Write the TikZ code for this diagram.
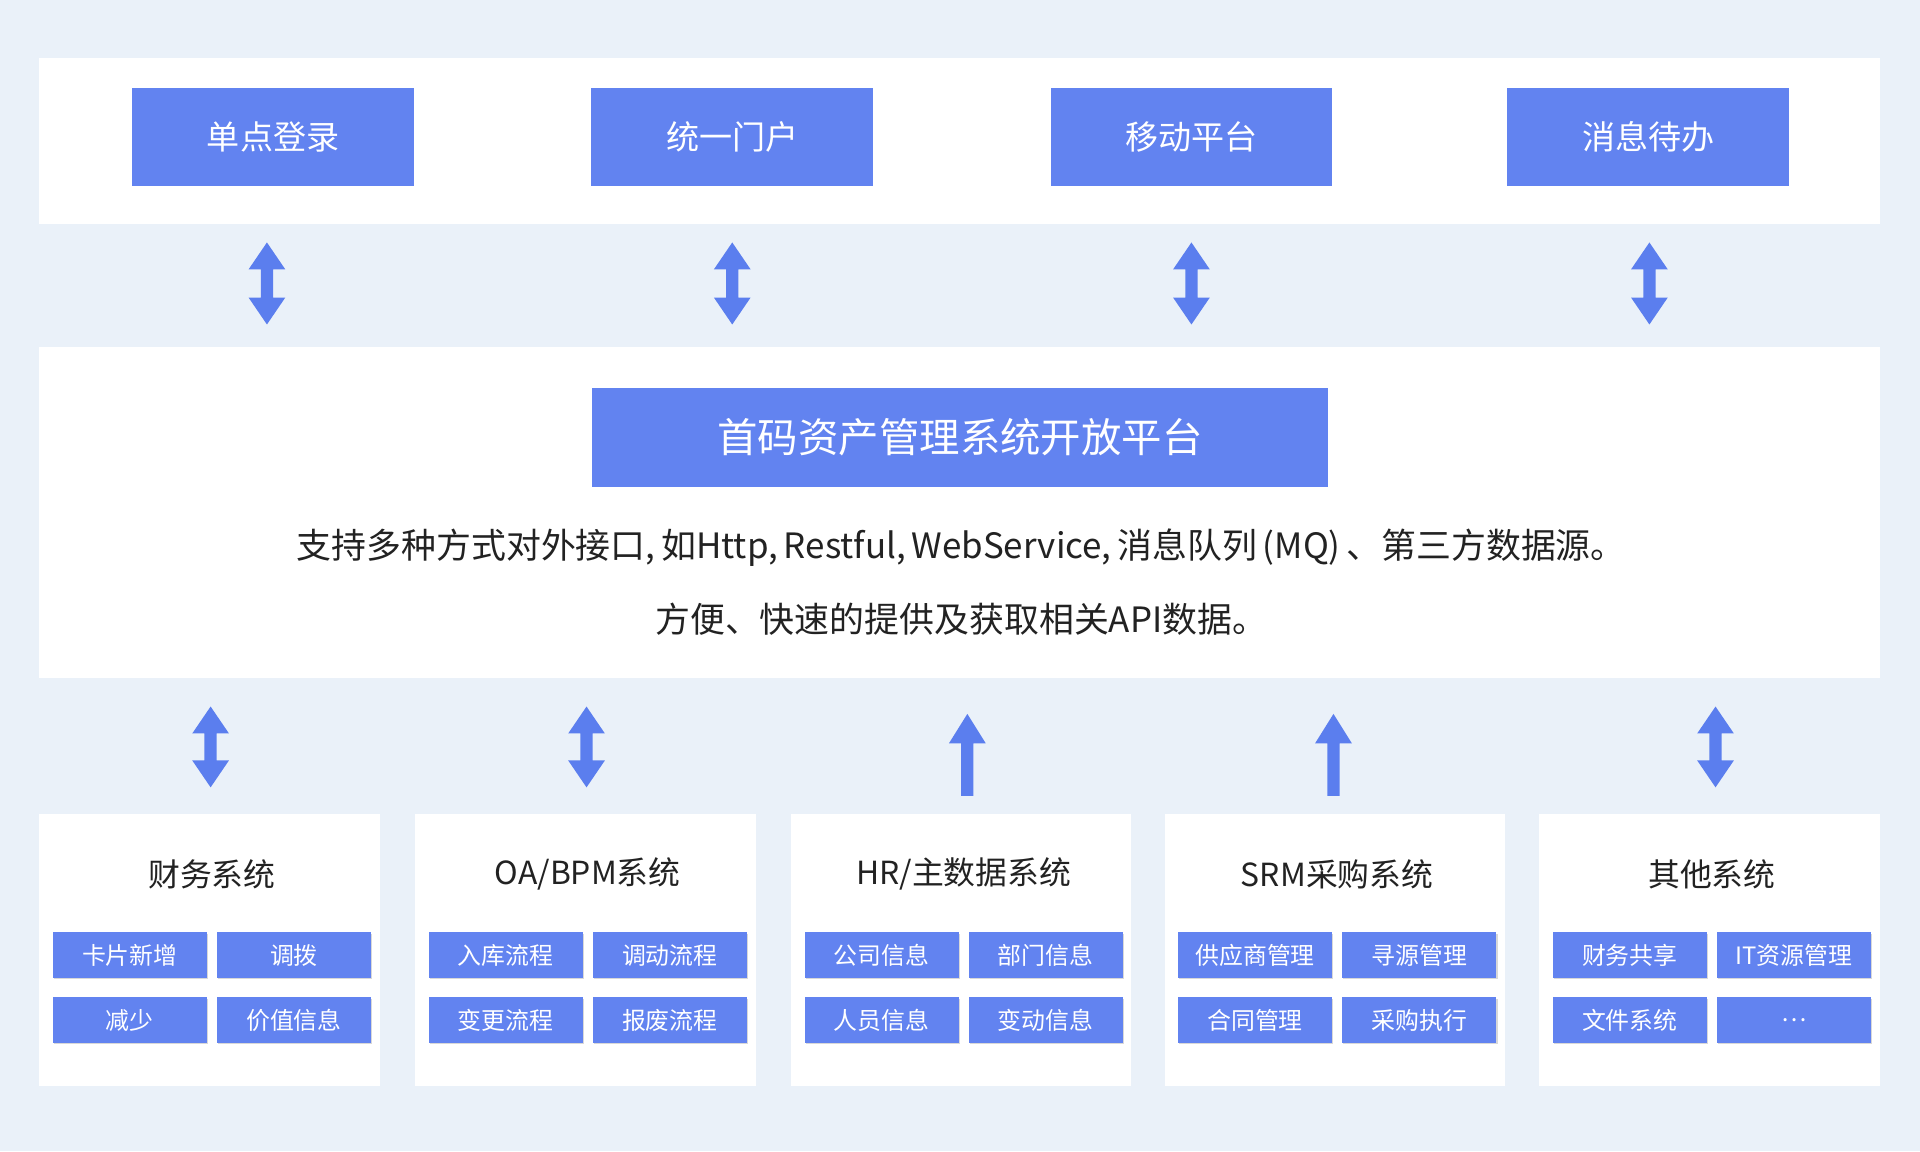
\documentclass[tikz,border=0pt]{standalone}
\usepackage{fontspec}
\setmainfont{Noto Sans CJK SC}
\usetikzlibrary{shadows}
\definecolor{bg}{HTML}{EAF1F9}
\definecolor{bl}{HTML}{6283F0}
\definecolor{ar}{HTML}{5B7EEE}
\definecolor{tx}{HTML}{222222}
\begin{document}
\begin{tikzpicture}[x=1pt,y=-1pt,
 panel/.style={fill=white,draw=none},
 big/.style={fill=bl,draw=none,text=white,font=\fontsize{27}{30}\selectfont,drop shadow={shadow xshift=0pt,shadow yshift=0pt,opacity=0.25}},
 sm/.style={fill=bl,draw=none,text=white,font=\fontsize{19.5}{22}\selectfont,minimum width=126pt,minimum height=37pt,inner sep=0pt,drop shadow={shadow xshift=1pt,shadow yshift=-1pt,opacity=0.3}},
 ttl/.style={text=tx,font=\fontsize{26}{30}\selectfont},
 body/.style={text=tx,font=\fontsize{28.5}{30}\selectfont}]
\fill[bg] (0,0) rectangle (1568,940);
\useasboundingbox (0,0) rectangle (1568,940);
\newcommand\darr[3]{% x, ytop, ybottom
 \fill[ar] (#1,#2) -- (#1+15,#2+22) -- (#1+5,#2+22) -- (#1+5,#3-22) -- (#1+15,#3-22) -- (#1,#3) -- (#1-15,#3-22) -- (#1-5,#3-22) -- (#1-5,#2+22) -- (#1-15,#2+22) -- cycle;}
\newcommand\uarr[3]{%
 \fill[ar] (#1,#2) -- (#1+15,#2+24) -- (#1+5,#2+24) -- (#1+5,#3) -- (#1-5,#3) -- (#1-5,#2+24) -- (#1-15,#2+24) -- cycle;}
% top
\path[panel] (32,47) rectangle (1535,183);
\foreach \x/\t/\n in {108/单点登录/a,483/统一门户/b,858/移动平台/c,1231/消息待办/d}
 \node[big,minimum width=230pt,minimum height=80pt,inner sep=0pt] (t\n) at (\x+115,112) {\t};
\darr{218}{198}{265}\darr{598}{198}{265}\darr{973}{198}{265}\darr{1347}{198}{265}
% middle
\path[panel] (32,283) rectangle (1535,554);
\node[big,minimum width=601pt,minimum height=81pt,inner sep=0pt,font=\fontsize{33}{36}\selectfont] (m) at (784,357) {首码资产管理系统开放平台};
\node[body] (l1) at (785,447) {支持多种方式对外接口,\,如Http,\,Restful,\,WebService,\,消息队列\,(MQ)\,、第三方数据源。};
\node[body] (l2) at (785,506) {方便、快速的提供及获取相关API数据。};
\darr{172}{577}{643}\darr{479}{577}{643}\darr{1401}{577}{643}
\uarr{790}{583}{650}\uarr{1089}{583}{650}
% bottom
\foreach \x/\t/\a/\b/\c/\d/\n in {32/财务系统/卡片新增/调拨/减少/价值信息/p,339/{OA/BPM系统}/入库流程/调动流程/变更流程/报废流程/q,646/{HR/主数据系统}/公司信息/部门信息/人员信息/变动信息/r,951/SRM采购系统/供应商管理/寻源管理/合同管理/采购执行/s,1257/其他系统/财务共享/IT资源管理/文件系统/…/u}{
 \path[panel] (\x,665) rectangle (\x+278,887);
 \node[ttl] (\n t) at (\x+141,714) {\t};
 \node[sm] (\n 1) at (\x+74,780) {\a};
 \node[sm] (\n 2) at (\x+208,780) {\b};
 \node[sm] (\n 3) at (\x+74,833) {\c};
 \node[sm] (\n 4) at (\x+208,833) {\d};
}
\end{tikzpicture}
\end{document}
